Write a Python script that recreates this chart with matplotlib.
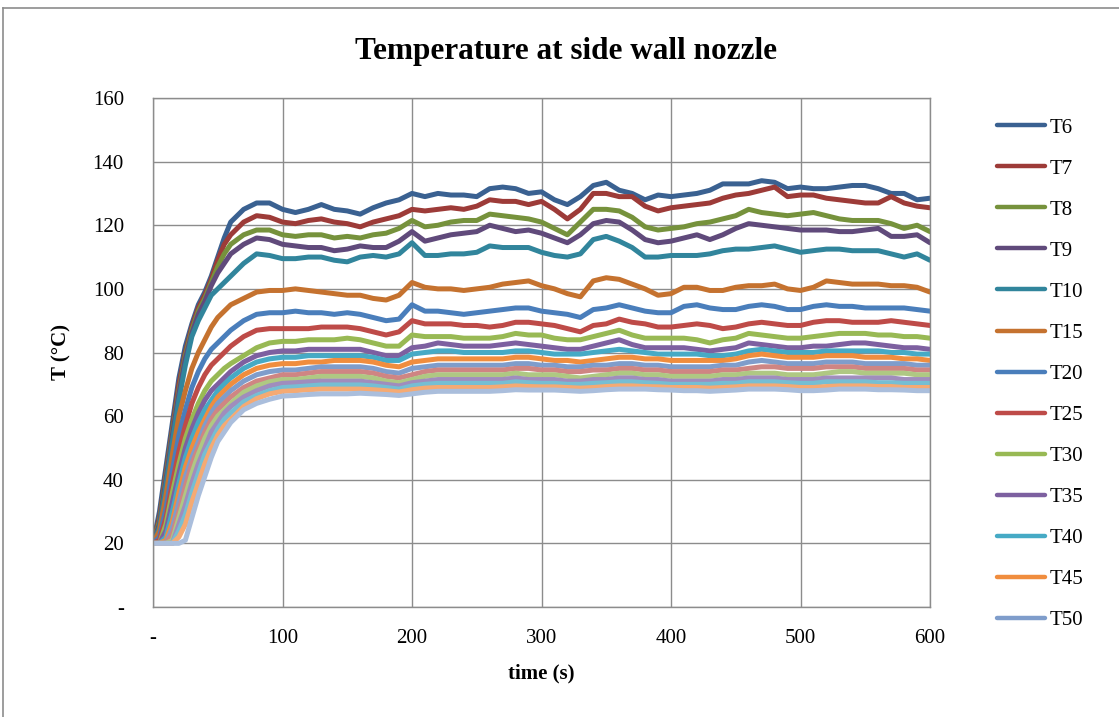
import matplotlib
matplotlib.use("Agg")
import matplotlib.pyplot as plt
from matplotlib.lines import Line2D

plt.rcParams['font.family'] = ['Liberation Serif', 'DejaVu Serif']

# ---------------- data ----------------
time_s = [0, 5, 10, 15, 20, 25, 30, 35, 40, 45, 50, 55, 60, 70, 80, 90,
          100, 110, 120, 130, 140, 150, 160, 170, 180, 190,
          200, 210, 220, 230, 240, 250, 260, 270, 280, 290,
          300, 310, 320, 330, 340, 350, 360, 370, 380, 390,
          400, 410, 420, 430, 440, 450, 460, 470, 480, 490,
          500, 510, 520, 530, 540, 550, 560, 570, 580, 590, 600]

series_names = ["T6", "T7", "T8", "T9", "T10", "T15", "T20", "T25", "T30",
                "T35", "T40", "T45", "T50", "T55", "T60", "T65", "T70", "T75", "T80"]
legend_names = ["T6", "T7", "T8", "T9", "T10", "T15", "T20", "T25", "T30",
                "T35", "T40", "T45", "T50"]

T6 = [20, 30, 44, 58, 72, 82, 89, 95, 99, 104, 110, 116, 121, 125, 127, 127,
      125, 124, 125, 126.5, 125, 124.5, 123.5, 125.5, 127, 128,
      130, 129, 130, 129.5, 129.5, 129, 131.5, 132, 131.5, 130,
      130.5, 128, 126.5, 129, 132.5, 133.5, 131, 130, 128, 129.5,
      129, 129.5, 130, 131, 133, 133, 133, 134, 133.5, 131.5,
      132, 131.5, 131.5, 132, 132.5, 132.5, 131.5, 130, 130, 128, 128.5]
T7 = [20, 28, 42, 56, 70, 80, 88, 94, 98, 103, 109, 114, 117, 121, 123, 122.5,
      121, 120.5, 121.5, 122, 121, 120.5, 119.5, 121, 122, 123,
      125, 124.5, 125, 125.5, 125, 126, 128, 127.5, 127.5, 126.5,
      127.5, 125, 122, 125, 130, 130, 129, 129, 126, 124.5,
      125.5, 126, 126.5, 127, 128.5, 129.5, 130, 131, 132, 129,
      129.5, 129.5, 128.5, 128, 127.5, 127, 127, 129, 127, 126, 125.5]
T8 = [20, 27, 41, 55, 68, 79, 87, 93, 97, 102, 107, 111, 114, 117, 118.5, 118.5,
      117, 116.5, 117, 117, 116, 116.5, 116, 117, 117.5, 119,
      121.5, 119.5, 120, 121, 121.5, 121.5, 123.5, 123, 122.5, 122,
      121, 119, 117, 121, 125, 125, 124.5, 122.5, 119.5, 118.5,
      119, 119.5, 120.5, 121, 122, 123, 125, 124, 123.5, 123,
      123.5, 124, 123, 122, 121.5, 121.5, 121.5, 120.5, 119, 120, 118]
T9 = [20, 26, 40, 54, 67, 78, 86, 92, 96, 101, 105, 108, 111, 114, 116, 115.5,
      114, 113.5, 113, 113, 112, 112.5, 113.5, 113, 113, 115,
      118, 115, 116, 117, 117.5, 118, 120, 119, 118, 118.5,
      117.5, 116, 114.5, 117, 120.5, 121.5, 121, 118.5, 115.5, 114.5,
      115, 116, 117, 115.5, 117, 119, 120.5, 120, 119.5, 119,
      118.5, 118.5, 118.5, 118, 118, 118.5, 119, 116.5, 116.5, 117, 114.5]
T10 = [20, 25, 38, 52, 65, 76, 85, 90, 94, 98, 100, 102, 104, 108, 111, 110.5,
       109.5, 109.5, 110, 110, 109, 108.5, 110, 110.5, 110, 111,
       114.5, 110.5, 110.5, 111, 111, 111.5, 113.5, 113, 113, 113,
       111.5, 110.5, 110, 111, 115.5, 116.5, 115, 113, 110, 110,
       110.5, 110.5, 110.5, 111, 112, 112.5, 112.5, 113, 113.5, 112.5,
       111.5, 112, 112.5, 112.5, 112, 112, 112, 111, 110, 111, 109]
T15 = [20, 24, 35, 48, 60, 68, 75, 80, 84, 88, 91, 93, 95, 97, 99, 99.5,
       99.5, 100, 99.5, 99, 98.5, 98, 98, 97, 96.5, 98,
       102, 100.5, 100, 100, 99.5, 100, 100.5, 101.5, 102, 102.5,
       101, 100, 98.5, 97.5, 102.5, 103.5, 103, 101.5, 100, 98,
       98.5, 100.5, 100.5, 99.5, 99.5, 100.5, 101, 101, 101.5, 100,
       99.5, 100.5, 102.5, 102, 101.5, 101.5, 101.5, 101, 101, 100.5, 99]
T20 = [20, 22, 31, 43, 54, 62, 69, 74, 78, 81, 83, 85, 87, 90, 92, 92.5,
       92.5, 93, 92.5, 92.5, 92, 92.5, 92, 91, 90, 90.5,
       95, 93, 93, 92.5, 92, 92.5, 93, 93.5, 94, 94,
       93, 92.5, 92, 91, 93.5, 94, 95, 94, 93, 92.5,
       92.5, 94.5, 95, 94, 93.5, 93.5, 94.5, 95, 94.5, 93.5,
       93.5, 94.5, 95, 94.5, 94.5, 94, 94, 94, 94, 93.5, 93]
T25 = [20, 21, 28, 39, 49, 57, 64, 69, 73, 76, 78, 80, 82, 85, 87, 87.5,
       87.5, 87.5, 87.5, 88, 88, 88, 87.5, 86.5, 85.5, 86.5,
       90, 89, 89, 89, 88.5, 88.5, 88, 88.5, 89.5, 89.5,
       89, 88.5, 87.5, 86.5, 88.5, 89, 90.5, 89.5, 89, 88,
       88, 88.5, 89, 88.5, 87.5, 88, 89, 89.5, 89, 88.5,
       88.5, 89.5, 90, 90, 89.5, 89.5, 89.5, 90, 89.5, 89, 88.5]
T30 = [20, 20, 26, 36, 45, 53, 59, 64, 68, 71, 73, 75, 76.5, 79, 81.5, 83,
       83.5, 83.5, 84, 84, 84, 84.5, 84, 83, 82, 82,
       85.5, 85, 85, 85, 84.5, 84.5, 84.5, 85, 86, 85.5,
       85.5, 84.5, 84, 84, 85, 86, 87, 85.5, 84.5, 84.5,
       84.5, 84.5, 84, 83, 84, 84.5, 86, 85.5, 85, 84.5,
       84.5, 85, 85.5, 86, 86, 86, 85.5, 85.5, 85, 85, 84.5]
T35 = [20, 20, 24, 33, 42, 50, 56, 61, 65, 68, 70, 72, 74, 77, 79, 80,
       80.5, 80.5, 81, 81, 81, 81, 81, 80, 79, 79,
       81.5, 82, 83, 82.5, 82, 82, 82, 82.5, 83, 82.5,
       82, 81.5, 81, 81, 82, 83, 84, 82.5, 81.5, 81.5,
       81.5, 81.5, 81, 80.5, 81, 81.5, 83, 82.5, 82, 81.5,
       81.5, 82, 82, 82.5, 83, 83, 82.5, 82, 81.5, 81.5, 81]
T40 = [20, 20, 22, 30, 39, 47, 53, 58, 62, 65, 68, 70, 72, 75, 77, 78,
       78.5, 78.5, 79, 79, 79, 79, 79, 78.5, 77.5, 77.5,
       79.5, 80, 80.5, 80.5, 80, 80, 80, 80, 80.5, 80.5,
       80, 79.5, 79.5, 79.5, 80, 80.5, 81, 80.5, 80, 79.5,
       79.5, 79.5, 79.5, 79, 79, 79.5, 80.5, 81, 80.5, 80,
       80, 80, 80.5, 80.5, 80.5, 80.5, 80.5, 80, 80, 79.5, 79.5]
T45 = [20, 20, 21, 27, 36, 44, 50, 55, 59, 63, 66, 68, 70, 73, 75, 76,
       76.5, 76.5, 77, 77, 77.5, 77.5, 77.5, 77, 76, 75.5,
       77, 77.5, 78, 78, 78, 78, 78, 78, 78.5, 78.5,
       78, 77.5, 77.5, 77, 77.5, 78, 78.5, 78.5, 78, 78,
       77.5, 77.5, 77.5, 77.5, 77.5, 78, 79, 79.5, 79, 78.5,
       78.5, 78.5, 79, 79, 79, 78.5, 78.5, 78.5, 78, 78, 77.5]
T50 = [20, 20, 20, 25, 33, 41, 47, 52, 57, 61, 64, 66, 68, 71, 73, 74,
       74.5, 74.5, 75, 75.5, 75.5, 75.5, 75.5, 75, 74, 73.5,
       75, 75.5, 76, 76, 76, 76, 76, 76, 76.5, 76.5,
       76, 76, 75.5, 75.5, 76, 76, 76.5, 76.5, 76, 76,
       75.5, 75.5, 75.5, 75.5, 76, 76, 77, 77.5, 77, 76.5,
       76.5, 76.5, 77, 77, 77, 76.5, 76.5, 76.5, 76.5, 76, 76]
T55 = [20, 20, 20, 23, 30, 38, 45, 50, 55, 59, 62, 64, 66, 69, 71, 72,
       73, 73, 73.5, 74, 74, 74, 74, 73.5, 72.5, 72,
       73, 74, 74.5, 74.5, 74.5, 74.5, 74.5, 74.5, 75, 75,
       74.5, 74.5, 74, 74, 74.5, 74.5, 75, 75, 74.5, 74.5,
       74, 74, 74, 74, 74.5, 74.5, 75, 75.5, 75.5, 75,
       75, 75, 75.5, 75.5, 75.5, 75, 75, 75, 75, 74.5, 74.5]
T60 = [20, 20, 20, 21, 28, 35, 42, 48, 53, 57, 60, 62, 64, 67.5, 69.5, 70.8,
       71.5, 71.5, 72, 72.5, 72.5, 72.5, 72.5, 72, 71, 70.5,
       71.5, 72.5, 73, 73, 73, 73, 73, 73, 73.5, 73,
       73, 73, 72.5, 72, 72.5, 73, 73.5, 73.5, 73, 73,
       72.5, 72.5, 72.5, 72.5, 73, 73, 73.5, 73.5, 73.5, 73,
       73, 73, 73.5, 74, 74, 73.5, 73.5, 73.5, 73.5, 73, 73]
T65 = [20, 20, 20, 20, 26, 32, 39, 45, 50, 55, 58, 61, 63, 66, 68, 69.5,
       70.3, 70.5, 70.8, 71, 71, 71, 71, 70.5, 70, 69.5,
       70.5, 71, 71.5, 71.5, 71.5, 71.5, 71.5, 71.5, 72, 71.5,
       71.5, 71.5, 71, 71, 71.5, 71.5, 72, 72, 71.5, 71.5,
       71, 71, 71, 71, 71.5, 71.5, 72, 72, 72, 71.5,
       71.5, 71.5, 72, 72, 72, 72, 72, 72, 71.5, 71.5, 71.5]
T70 = [20, 20, 20, 20, 24, 29, 36, 42, 48, 52, 56, 59, 61, 64.5, 66.5, 68,
       69, 69.2, 69.5, 69.8, 69.8, 69.8, 69.8, 69.5, 69, 68.5,
       69.5, 70, 70.3, 70.3, 70.3, 70.3, 70.3, 70.3, 70.8, 70.5,
       70.3, 70.3, 70, 70, 70.3, 70.5, 70.8, 70.8, 70.5, 70.3,
       70, 70, 70, 70, 70.3, 70.3, 70.8, 70.8, 70.8, 70.5,
       70.3, 70.3, 70.8, 70.8, 70.8, 70.8, 70.5, 70.5, 70.3, 70.3, 70.3]
T75 = [20, 20, 20, 20, 22, 26, 33, 39, 45, 50, 54, 57, 59, 63, 65.5, 67,
       67.8, 68, 68.3, 68.5, 68.5, 68.5, 68.5, 68.3, 68, 67.6,
       68.3, 68.8, 69, 69, 69, 69, 69, 69.2, 69.5, 69.3,
       69.2, 69.2, 69, 68.8, 69, 69.3, 69.5, 69.5, 69.3, 69.2,
       69, 69, 69, 68.8, 69, 69.2, 69.5, 69.5, 69.5, 69.3,
       69, 69, 69.3, 69.5, 69.5, 69.5, 69.3, 69.3, 69, 69, 69]
T80 = [20, 20, 20, 20, 20, 21, 28, 35, 41, 47, 52, 55, 58, 62, 64, 65.3,
       66.3, 66.5, 66.8, 67, 67, 67, 67.2, 67, 66.8, 66.5,
       67, 67.5, 67.8, 67.8, 67.8, 67.8, 67.8, 68, 68.3, 68.2,
       68.2, 68.2, 68, 67.8, 68, 68.3, 68.5, 68.5, 68.5, 68.3,
       68.2, 68, 68, 67.8, 68, 68.2, 68.5, 68.5, 68.5, 68.3,
       68, 68, 68.2, 68.5, 68.5, 68.5, 68.3, 68.3, 68.2, 68, 68]

all_series = [T6, T7, T8, T9, T10, T15, T20, T25, T30, T35,
              T40, T45, T50, T55, T60, T65, T70, T75, T80]

x_ticks = [0, 100, 200, 300, 400, 500, 600]
x_tick_labels = ["-", "100", "200", "300", "400", "500", "600"]
y_ticks = [0, 20, 40, 60, 80, 100, 120, 140, 160]
y_tick_labels = ["-", "20", "40", "60", "80", "100", "120", "140", "160"]

colors = ["#3A6191", "#9D3B38", "#76923C", "#604A7B", "#31859C", "#C5722F",
          "#4A7EBB", "#BE4B48", "#98B954", "#7D60A0", "#46AAC5", "#F08D3E",
          "#7F9DCB", "#CF8583", "#AFC883", "#A08DBD", "#76BED3", "#F5AA73",
          "#AABEDC"]

# ---------------- figure ----------------
W, H = 1119, 717
fig = plt.figure(figsize=(W / 100, H / 100), dpi=100)
ax = fig.add_axes([153 / W, 1 - 607 / H, (930 - 153) / W, (607 - 98) / H])

for name, vals, c in zip(series_names, all_series, colors):
    ax.plot(time_s, vals, color=c, lw=3.6, solid_capstyle='round',
            solid_joinstyle='round', label=name)

ax.set_xlim(0, 600)
ax.set_ylim(0, 160)
ax.set_xticks(x_ticks)
ax.set_xticklabels(x_tick_labels)
ax.set_yticks(y_ticks)
ax.set_yticklabels(y_tick_labels)
ax.tick_params(axis='both', length=0, labelsize=15, colors='black')
ax.tick_params(axis='y', pad=21)
ax.tick_params(axis='x', pad=16)
ax.grid(True, color='#8c8c8c', lw=1.0)
ax.set_axisbelow(True)
for s in ax.spines.values():
    s.set_color('#8c8c8c')
    s.set_linewidth(1.0)

ax.set_xlabel("time (s)", fontsize=15, fontweight='bold', labelpad=11)
ax.set_ylabel("T (°C)", fontsize=15, fontweight='bold', labelpad=15)
fig.text(566 / W, 1 - 51 / H, "Temperature at side wall nozzle",
         ha='center', va='center', fontsize=22.5, fontweight='bold')

handles = [Line2D([], [], color=c, lw=3.2, solid_capstyle='round')
           for c in colors[:len(legend_names)]]
fig.legend(handles, legend_names, loc='upper left',
           bbox_to_anchor=(997 / W, 1 - 118 / H), frameon=False,
           fontsize=15, handlelength=2.3, handletextpad=0.25,
           labelspacing=1.03, borderpad=0, borderaxespad=0)

# outer chart border
fig.add_artist(Line2D([3 / W, 3 / W], [0, 1 - 8 / H], color='#8c8c8c',
                      lw=1.2, transform=fig.transFigure))
fig.add_artist(Line2D([3 / W, 1], [1 - 8 / H, 1 - 8 / H], color='#8c8c8c',
                      lw=1.2, transform=fig.transFigure))

fig.savefig("out.png", dpi=100)
